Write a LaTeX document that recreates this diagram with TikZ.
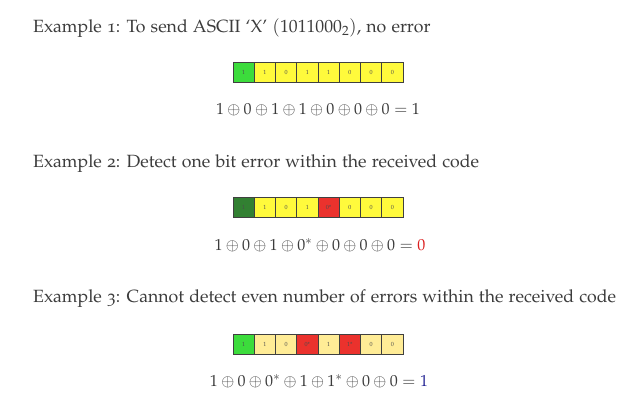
\documentclass[tikz,border=0pt]{standalone}
\usepackage[T1]{fontenc}
\usepackage[osf]{mathpazo}
\usetikzlibrary{positioning}
\definecolor{textgrey}{RGB}{60,60,60}
\definecolor{bitgreen}{RGB}{60,220,60}
\definecolor{bitdkgreen}{RGB}{50,128,50}
\definecolor{bityellow}{RGB}{255,250,60}
\definecolor{bitpale}{RGB}{255,236,150}
\definecolor{bitred}{RGB}{235,50,45}
\definecolor{parityred}{RGB}{220,30,30}
\definecolor{parityblue}{RGB}{40,40,150}

\tikzset{
  bit/.style={draw=black!75, fill=#1, line width=0.6pt, minimum width=21.25pt,
    minimum height=20pt, inner sep=0pt, text=black!70,
    font=\fontfamily{ppl}\fontsize{6}{6}\selectfont},
  heading/.style={anchor=west, inner sep=0pt, textgrey, font=\fontsize{17.7}{20}\selectfont},
  sum/.style={textgrey, font=\fontsize{16}{19}\selectfont}
}

\begin{document}
\begin{tikzpicture}[x=1pt, y=-1pt]

    \useasboundingbox (0,0) rectangle (644,417);
    \fill[white] (0,0) rectangle (644,417);

    % example 1
    \node[heading] (head1) at (33,28) {Example 1: To send ASCII `X' $(1011000_2)$, no error};
    \foreach \b/\c [count=\i] in {1/bitgreen, 1/bityellow, 0/bityellow, 1/bityellow, 1/bityellow, 0/bityellow, 0/bityellow, 0/bityellow}
        \node[bit=\c] (one\i) at ({233+21.25*(\i-0.5)},72) {\b};
    \node[sum] (sum1) at (318,110) {$1\oplus0\oplus1\oplus1\oplus0\oplus0\oplus0=1$};

    % example 2
    \node[heading] (head2) at (33,164) {Example 2: Detect one bit error within the received code};
    \foreach \b/\c [count=\i] in {1/bitdkgreen, 1/bityellow, 0/bityellow, 1/bityellow, 0*/bitred, 0/bityellow, 0/bityellow, 0/bityellow}
        \node[bit=\c] (two\i) at ({233+21.25*(\i-0.5)},207.5) {\b};
    \node[sum] (sum2) at (320,245) {$1\oplus0\oplus1\oplus0^*\oplus0\oplus0\oplus0=\textcolor{parityred}{0}$};

    % example 3
    \node[heading] (head3) at (33,299) {Example 3: Cannot detect even number of errors within the received code};
    \foreach \b/\c [count=\i] in {1/bitgreen, 1/bitpale, 0/bitpale, 0*/bitred, 1/bitpale, 1*/bitred, 0/bitpale, 0/bitpale}
        \node[bit=\c] (three\i) at ({233+21.25*(\i-0.5)},344.5) {\b};
    \node[sum] (sum3) at (319,381) {$1\oplus0\oplus0^*\oplus1\oplus1^*\oplus0\oplus0=\textcolor{parityblue}{1}$};

\end{tikzpicture}
\end{document}
